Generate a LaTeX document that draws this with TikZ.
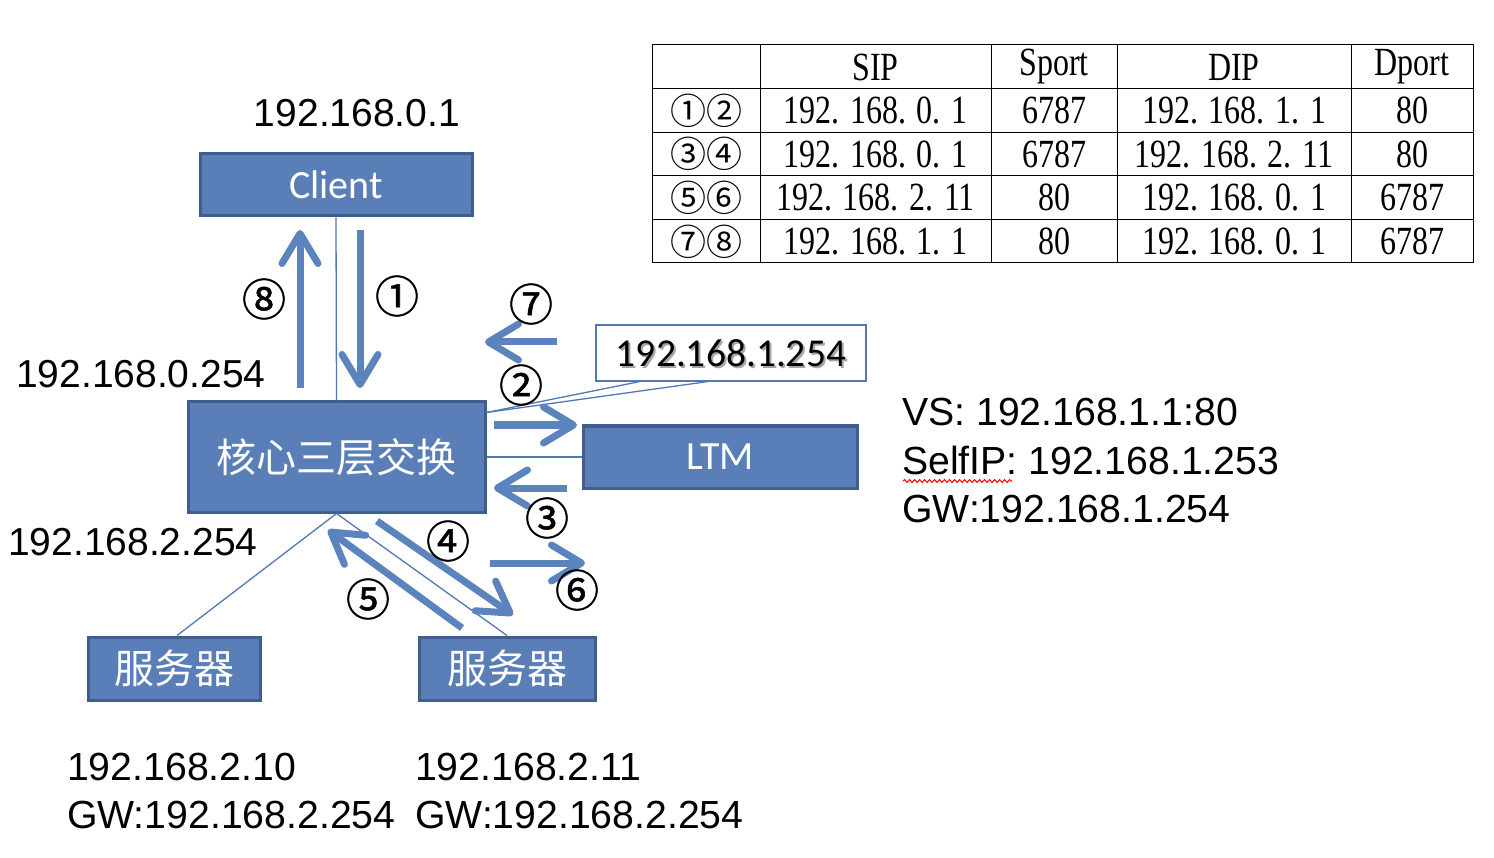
\documentclass[tikz,border=0pt]{standalone}
\usepackage{fontspec}
\setmainfont{Liberation Sans}
\newfontfamily\cjk{Noto Sans CJK SC}
\newfontfamily\cjknum[FakeBold=1.2]{Noto Sans CJK SC}
\newfontfamily\calib{Carlito}
\newfontfamily\tabfont{Liberation Serif}
\usetikzlibrary{arrows.meta,positioning,calc,decorations.pathmorphing}
\definecolor{BoxBlue}{HTML}{5A7FB8}
\definecolor{BoxEdge}{HTML}{3F5E8C}
\definecolor{LinkBlue}{HTML}{5079B6}
\definecolor{FlowBlue}{HTML}{5B83BE}
\newcommand{\ipsize}{\fontsize{39}{48}\selectfont}
\newcommand{\tabtxt}[1]{\scalebox{.8}[1]{#1}}

\begin{document}
\begin{tikzpicture}[x=1pt,y=-1pt,
 box/.style={draw=BoxEdge,line width=3pt,fill=BoxBlue,text=white,inner sep=0},
 link/.style={draw=LinkBlue,line width=1.3pt},
 flow/.style={draw=FlowBlue,line width=7pt,-{Straight Barb[length=30pt,width=36pt,round]}},
 num/.style={font=\cjknum\fontsize{44}{44}\selectfont,inner sep=0},
 ip/.style={font=\ipsize,inner sep=0,align=left},
 cell/.style={font=\tabfont\fontsize{40}{40}\selectfont,inner sep=0},
 grid/.style={draw=black,line width=1pt}]
\fill[white] (0,0) rectangle (1494,858);
\useasboundingbox (0,0) rectangle (1494,858);

% boxes
\node[box,minimum width=272pt,minimum height=62pt,font=\calib\fontsize{40}{40}\selectfont] (client) at (336,185) {Client};
\node[box,minimum width=297pt,minimum height=110pt,font=\cjk\fontsize{40}{40}\selectfont] (core) at (336.5,457) {核心三层交换};
\node[box,minimum width=274pt,minimum height=62pt,font=\calib\fontsize{40}{40}\selectfont] (ltm) at (720,457) {LTM};
\node[box,minimum width=172pt,minimum height=63pt,font=\cjk\fontsize{40}{40}\selectfont] (srvA) at (174,668.5) {服务器};
\node[box,minimum width=176pt,minimum height=63pt,font=\cjk\fontsize{40}{40}\selectfont] (srvB) at (507,668.5) {服务器};
\node[draw=LinkBlue,line width=1.3pt,fill=white,minimum width=270pt,minimum height=56pt,inner sep=0] (gwbox) at (731,353) {};
\node[font=\calib\fontsize{39.5}{40}\selectfont,text=black!35,inner sep=0] at ($(gwbox)+(2,2)$) {192.168.1.254};
\node[font=\calib\fontsize{39.5}{40}\selectfont,inner sep=0] (gwtxt) at (gwbox) {192.168.1.254};

% links
\draw[link] (client.south) -- (core.north);
\draw[link] (core.east) -- (ltm.west);
\draw[link] (core.south) -- ($(srvA.north)+(3,0)$);
\draw[link] (core.south) -- (srvB.north);
\coordinate (tap) at ($(core.north east)+(0,12)$);
\draw[link] (tap) -- ($(gwbox.south west)+(44,0)$);
\draw[link] (tap) -- ($(gwbox.south west)+(112,0)$);

% flows
\coordinate (f8a) at (300,388); \coordinate (f8b) at (300,230);
\coordinate (f1a) at (360,230); \coordinate (f1b) at (360,388);
\coordinate (f7a) at (557,342); \coordinate (f7b) at (485,342);
\coordinate (f2a) at (494,425); \coordinate (f2b) at (577,425);
\coordinate (f3a) at (567,488); \coordinate (f3b) at (494,488);
\coordinate (f4a) at (377,521); \coordinate (f4b) at (513,615);
\coordinate (f5a) at (462,628); \coordinate (f5b) at (328,530);
\coordinate (f6a) at (490,563); \coordinate (f6b) at (585,563);
\foreach \k in {8,1,7,2,3,4,5,6}
  \draw[flow] (f\k a) -- (f\k b);

\node[num] (n8) at (264,299) {⑧};
\node[num] (n1) at (397,296) {①};
\node[num] (n7) at (531,304) {⑦};
\node[num] (n2) at (521,385) {②};
\node[num] (n3) at (547,518) {③};
\node[num] (n4) at (448,541) {④};
\node[num] (n5) at (368,599) {⑤};
\node[num] (n6) at (577,590) {⑥};

% addresses
\node[ip] (ipclient) at (357,113) {192.168.0.1};
\node[ip,anchor=west] (ipup) at (16,374) {192.168.0.254};
\node[ip,anchor=west] (ipdown) at (8,542) {192.168.2.254};
\node[ip,anchor=west,font=\fontsize{39.2}{48}\selectfont] (ipA) at (67,791) {192.168.2.10\\GW:192.168.2.254};
\node[ip,anchor=west,font=\fontsize{39.2}{48}\selectfont] (ipB) at (415,791) {192.168.2.11\\GW:192.168.2.254};
\node[ip,anchor=west,font=\fontsize{39.2}{48.5}\selectfont] (ipltm) at (902,461) {VS: 192.168.1.1:80\\SelfIP: 192.168.1.253\\GW:192.168.1.254};
\draw[red,line width=1pt,decorate,decoration={snake,amplitude=1.4pt,segment length=5pt}] (903,481) -- (1012,481);

% table
\draw[grid] (652,45) rectangle (1473,263);
\foreach \cx in {760,991,1117,1351}
  \draw[grid] (\cx,45) -- (\cx,263);
\foreach \r in {1,...,4}
  \draw[grid] (652,45+43.6*\r) -- (1473,45+43.6*\r);
\node[cell] (hsip) at (875.5,67) {\tabtxt{SIP}};
\node[cell] (hsport) at (1054,67) {\tabtxt{Sport}};
\node[cell] (hdip) at (1234,67) {\tabtxt{DIP}};
\node[cell] (hdport) at (1412,67) {\tabtxt{Dport}};
\foreach \tag/\sip/\sport/\dip/\dport [count=\r] in
  {①②/192. 168. 0. 1/6787/192. 168. 1. 1/80,
   ③④/192. 168. 0. 1/6787/192. 168. 2. 11/80,
   ⑤⑥/192. 168. 2. 11/80/192. 168. 0. 1/6787,
   ⑦⑧/192. 168. 1. 1/80/192. 168. 0. 1/6787}{
  \node[cell,font=\cjk\fontsize{36}{36}\selectfont] (tag\r) at (706,67+43.6*\r) {\tag};
  \node[cell] (sip\r) at (875.5,67+43.6*\r) {\tabtxt{\sip}};
  \node[cell] (sport\r) at (1054,67+43.6*\r) {\tabtxt{\sport}};
  \node[cell] (dip\r) at (1234,67+43.6*\r) {\tabtxt{\dip}};
  \node[cell] (dport\r) at (1412,67+43.6*\r) {\tabtxt{\dport}};
}
\end{tikzpicture}
\end{document}
